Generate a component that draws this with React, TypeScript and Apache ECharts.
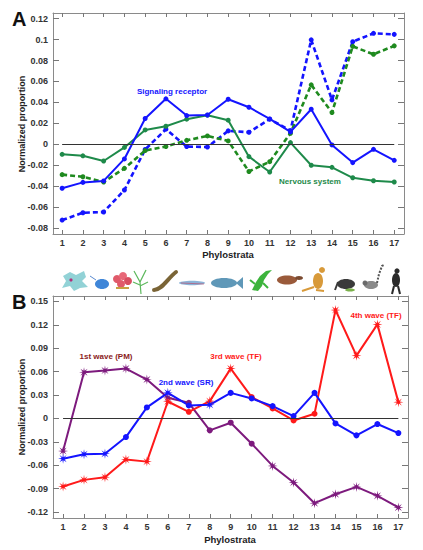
import React, { useEffect, useRef } from "react";
import * as echarts from "echarts";

const phylostrata = [1, 2, 3, 4, 5, 6, 7, 8, 9, 10, 11, 12, 13, 14, 15, 16, 17];

// Panel A
const srSolid = [-0.042, -0.0364, -0.035, -0.014, 0.0246, 0.0434, 0.0274, 0.028, 0.043, 0.0354, 0.0242, 0.0118, 0.0335, -0.0006, -0.0175, -0.0048, -0.0153];
const srDashed = [-0.0724, -0.0654, -0.0647, -0.0437, -0.005, 0.0144, -0.0022, -0.0026, 0.0128, 0.0115, 0.024, 0.013, 0.0998, 0.0424, 0.098, 0.106, 0.105];
const nsSolid = [-0.0096, -0.011, -0.016, -0.003, 0.0137, 0.0172, 0.024, 0.0278, 0.023, -0.0118, -0.0265, 0.0016, -0.02, -0.022, -0.032, -0.0348, -0.036];
const nsDashed = [-0.029, -0.031, -0.036, -0.023, -0.006, -0.0022, 0.0038, 0.008, 0.0032, -0.026, -0.0166, 0.0105, 0.0568, 0.0303, 0.0935, 0.086, 0.094];
const yTicksA = [-0.08, -0.06, -0.04, -0.02, 0, 0.02, 0.04, 0.06, 0.08, 0.1, 0.12];

// Panel B
const wave1 = [-0.0418, 0.0592, 0.0614, 0.0639, 0.0499, 0.0264, 0.02, -0.0153, -0.0055, -0.0324, -0.0609, -0.0822, -0.1087, -0.0972, -0.0878, -0.0993, -0.1142];
const wave2 = [-0.0516, -0.046, -0.0452, -0.0239, 0.0141, 0.0328, 0.0166, 0.0175, 0.0328, 0.0256, 0.0158, 0.003, 0.0328, -0.0064, -0.0217, -0.0072, -0.0188];
const wave34 = [-0.0874, -0.0788, -0.0754, -0.0528, -0.0554, 0.0217, 0.0085, 0.0222, 0.0639, 0.0273, 0.0128, -0.0026, 0.006, 0.139, 0.0805, 0.1206, 0.0209];
const wave1Marks = ["s", "s", "s", "s", "s", "s", "c", "c", "c", "c", "s", "s", "s", "s", "s", "s", "s"];
const wave2Marks = ["s", "s", "s", "c", "c", "s", "c", "s", "c", "c", "c", "c", "c", "c", "c", "c", "c"];
const wave34Marks = ["s", "s", "s", "s", "s", "s", "c", "s", "s", "c", "c", "c", "c", "s", "s", "s", "s"];
const yTicksB = [-0.12, -0.09, -0.06, -0.03, 0, 0.03, 0.06, 0.09, 0.12, 0.15];

const FONT = "Liberation Sans, Arial, sans-serif";

function starPath(): string {
  const pts: string[] = [];
  const n = 16;
  for (let i = 0; i < n; i++) {
    const a = (Math.PI * 2 * i) / n - Math.PI / 2;
    const r = i % 2 === 0 ? 10 : 3.2;
    const x = (10 + r * Math.cos(a)).toFixed(2);
    const y = (10 + r * Math.sin(a)).toFixed(2);
    pts.push((i === 0 ? "M" : "L") + x + " " + y);
  }
  return "path://" + pts.join(" ") + " Z";
}
const STAR = starPath();

function pairs(vals: number[]) {
  return phylostrata.map((x, i) => [x, vals[i]]);
}
function markedPairs(vals: number[], marks: string[]) {
  return phylostrata.map((x, i) => ({
    value: [x, vals[i]],
    symbol: marks[i] === "s" ? STAR : "circle",
    symbolSize: marks[i] === "s" ? 10 : 6,
  }));
}

const axisGray = "#8a8a8a";
const tickGray = "#777";
const labelStyle = { fontFamily: FONT, fontWeight: "bold" as const, fontSize: 9, color: "#333" };

function xAxes(grid: number, min: number, max: number) {
  return [
    {
      type: "value", gridIndex: grid, min, max, position: "bottom",
      axisLine: { show: true, onZero: false, lineStyle: { color: axisGray } },
      axisTick: { show: true, inside: true, length: 4, lineStyle: { color: tickGray }, customValues: phylostrata },
      axisLabel: { ...labelStyle, margin: 4, customValues: phylostrata },
      splitLine: { show: false },
    },
    {
      type: "value", gridIndex: grid, min, max, position: "top",
      axisLine: { show: true, onZero: false, lineStyle: { color: axisGray } },
      axisTick: { show: true, inside: true, length: 4, lineStyle: { color: tickGray }, customValues: phylostrata },
      axisLabel: { show: false },
      splitLine: { show: false },
    },
  ];
}
function yAxes(grid: number, min: number, max: number, ticks: number[]) {
  return [
    {
      type: "value", gridIndex: grid, min, max, position: "left",
      axisLine: { show: true, onZero: false, lineStyle: { color: axisGray } },
      axisTick: { show: true, inside: true, length: 6, lineStyle: { color: tickGray }, customValues: ticks },
      axisLabel: { ...labelStyle, margin: 5, customValues: ticks, formatter: (v: number) => String(Math.round(v * 1000) / 1000) },
      splitLine: { show: false },
    },
    {
      type: "value", gridIndex: grid, min, max, position: "right",
      axisLine: { show: true, onZero: false, lineStyle: { color: axisGray } },
      axisTick: { show: true, inside: true, length: 6, lineStyle: { color: tickGray }, customValues: ticks },
      axisLabel: { show: false },
      splitLine: { show: false },
    },
  ];
}

function zeroLine() {
  return {
    silent: true,
    symbol: "none",
    label: { show: false },
    lineStyle: { color: "#333", width: 1, type: "solid" },
    data: [[{ coord: [1, 0] }, { coord: [17, 0] }]],
  };
}

function icons(): any[] {
  const g: any[] = [];
  // amoeba
  g.push({ type: "polygon", shape: { points: [[63, 276], [70, 272], [76, 275], [84, 271], [86, 277], [82, 281], [88, 287], [80, 288], [74, 291], [70, 286], [62, 288], [66, 281]] }, style: { fill: "#92d2d6" } });
  g.push({ type: "circle", shape: { cx: 71, cy: 280, r: 1.6 }, style: { fill: "#b0307a" } });
  // cell
  g.push({ type: "line", shape: { x1: 90, y1: 276, x2: 96, y2: 280 }, style: { stroke: "#5a8ad0", lineWidth: 1 } });
  g.push({ type: "ellipse", shape: { cx: 102, cy: 284, rx: 7, ry: 5 }, style: { fill: "#3f86d8" } });
  // coral
  g.push({ type: "circle", shape: { cx: 117, cy: 279, r: 4 }, style: { fill: "#e05a6a" } });
  g.push({ type: "circle", shape: { cx: 123, cy: 276, r: 4 }, style: { fill: "#e86878" } });
  g.push({ type: "circle", shape: { cx: 128, cy: 281, r: 4 }, style: { fill: "#d84e60" } });
  g.push({ type: "circle", shape: { cx: 121, cy: 284, r: 4 }, style: { fill: "#e05a6a" } });
  g.push({ type: "rect", shape: { x: 116, y: 287, width: 13, height: 2 }, style: { fill: "#c8a040" } });
  // plant
  g.push({ type: "polyline", shape: { points: [[141, 294], [140, 282], [134, 271]] }, style: { stroke: "#5cb85c", lineWidth: 1.2, fill: "none" } });
  g.push({ type: "polyline", shape: { points: [[140, 282], [146, 270]] }, style: { stroke: "#5cb85c", lineWidth: 1.2, fill: "none" } });
  g.push({ type: "polyline", shape: { points: [[140, 286], [148, 282]] }, style: { stroke: "#5cb85c", lineWidth: 1.2, fill: "none" } });
  g.push({ type: "polyline", shape: { points: [[140, 285], [133, 282]] }, style: { stroke: "#5cb85c", lineWidth: 1.2, fill: "none" } });
  // worm
  g.push({ type: "bezierCurve", shape: { x1: 154, y1: 290, cpx1: 162, cpy1: 290, cpx2: 168, cpy2: 278, x2: 176, y2: 272 }, style: { stroke: "#7a6436", lineWidth: 4, fill: "none", lineCap: "round" } });
  // thin fish
  g.push({ type: "ellipse", shape: { cx: 192, cy: 283, rx: 13, ry: 2.2 }, style: { fill: "#8cb4d8" } });
  g.push({ type: "line", shape: { x1: 181, y1: 283, x2: 204, y2: 284 }, style: { stroke: "#c04060", lineWidth: 0.6 } });
  // coelacanth
  g.push({ type: "ellipse", shape: { cx: 224, cy: 283, rx: 13, ry: 5 }, style: { fill: "#5f98b8" } });
  g.push({ type: "polygon", shape: { points: [[236, 283], [243, 277], [243, 289]] }, style: { fill: "#5f98b8" } });
  // lizard
  g.push({ type: "polygon", shape: { points: [[252, 290], [256, 282], [260, 276], [266, 271], [272, 270], [268, 274], [264, 280], [262, 286], [258, 291]] }, style: { fill: "#3cb43c" } });
  g.push({ type: "line", shape: { x1: 255, y1: 284, x2: 250, y2: 280 }, style: { stroke: "#3cb43c", lineWidth: 2 } });
  g.push({ type: "line", shape: { x1: 263, y1: 283, x2: 268, y2: 288 }, style: { stroke: "#3cb43c", lineWidth: 2 } });
  // platypus
  g.push({ type: "ellipse", shape: { cx: 287, cy: 280, rx: 10, ry: 4.5 }, style: { fill: "#9a5a3a" } });
  g.push({ type: "ellipse", shape: { cx: 299, cy: 278, rx: 4, ry: 2 }, style: { fill: "#7a4a30" } });
  // kangaroo
  g.push({ type: "ellipse", shape: { cx: 318, cy: 281, rx: 5, ry: 8 }, style: { fill: "#d89a3a" } });
  g.push({ type: "circle", shape: { cx: 322, cy: 270, r: 3 }, style: { fill: "#d89a3a" } });
  g.push({ type: "line", shape: { x1: 314, y1: 287, x2: 302, y2: 291 }, style: { stroke: "#d89a3a", lineWidth: 2 } });
  g.push({ type: "line", shape: { x1: 316, y1: 290, x2: 324, y2: 291 }, style: { stroke: "#d89a3a", lineWidth: 2 } });
  // anteater
  g.push({ type: "ellipse", shape: { cx: 346, cy: 284, rx: 9, ry: 5 }, style: { fill: "#3a3a3a" } });
  g.push({ type: "line", shape: { x1: 338, y1: 282, x2: 335, y2: 290 }, style: { stroke: "#3a3a3a", lineWidth: 2 } });
  g.push({ type: "ellipse", shape: { cx: 350, cy: 290, rx: 5, ry: 1.5 }, style: { fill: "#7ab04a" } });
  // lemur
  g.push({ type: "ellipse", shape: { cx: 371, cy: 285, rx: 7, ry: 4 }, style: { fill: "#8a8a8a" } });
  g.push({ type: "circle", shape: { cx: 365, cy: 283, r: 2.5 }, style: { fill: "#6a6a6a" } });
  g.push({ type: "polyline", shape: { points: [[377, 283], [379, 274], [382, 266], [384, 265]] }, style: { stroke: "#555", lineWidth: 2, fill: "none", lineDash: [2, 1.5] } });
  // gorilla
  g.push({ type: "ellipse", shape: { cx: 396, cy: 280, rx: 4, ry: 7 }, style: { fill: "#2a2a2a" } });
  g.push({ type: "circle", shape: { cx: 397, cy: 271, r: 2.6 }, style: { fill: "#2a2a2a" } });
  g.push({ type: "line", shape: { x1: 394, y1: 286, x2: 392, y2: 294 }, style: { stroke: "#2a2a2a", lineWidth: 2 } });
  g.push({ type: "line", shape: { x1: 398, y1: 286, x2: 400, y2: 294 }, style: { stroke: "#2a2a2a", lineWidth: 2 } });
  return g;
}

export default function App() {
  const ref = useRef<HTMLDivElement>(null);
  useEffect(() => {
    if (!ref.current) return;
    const chart = echarts.init(ref.current, null, { renderer: "svg" });
    const blue = "#1414ff";
    const greenSolid = "#1e8a4a";
    const greenDash = "#1f8a1f";
    const purple = "#7d1a7d";
    const red = "#ff1a1a";
    const textBase = { fontFamily: FONT, fontWeight: "bold" };
    chart.setOption({
      animation: false,
      backgroundColor: "#ffffff",
      grid: [
        { left: 53, top: 13, width: 351, height: 221, containLabel: false },
        { left: 53, top: 296, width: 355, height: 222, containLabel: false },
      ],
      xAxis: [...xAxes(0, 0.56, 17.47), ...xAxes(1, 0.52, 17.46)],
      yAxis: [...yAxes(0, -0.0857, 0.1254, yTicksA), ...yAxes(1, -0.1277, 0.157, yTicksB)],
      series: [
        {
          type: "line", xAxisIndex: 0, yAxisIndex: 0, data: pairs(srDashed),
          symbol: "circle", symbolSize: 5, itemStyle: { color: blue },
          lineStyle: { color: blue, width: 2.6, type: [5, 3] },
        },
        {
          type: "line", xAxisIndex: 0, yAxisIndex: 0, data: pairs(nsDashed),
          symbol: "circle", symbolSize: 5, itemStyle: { color: greenDash },
          lineStyle: { color: greenDash, width: 2.6, type: [5, 3] },
        },
        {
          type: "line", xAxisIndex: 0, yAxisIndex: 0, data: pairs(nsSolid),
          symbol: "circle", symbolSize: 5, itemStyle: { color: greenSolid },
          lineStyle: { color: greenSolid, width: 2 },
        },
        {
          type: "line", xAxisIndex: 0, yAxisIndex: 0, data: pairs(srSolid),
          symbol: "circle", symbolSize: 5, itemStyle: { color: blue },
          lineStyle: { color: blue, width: 2 },
          markLine: zeroLine(),
        },
        {
          type: "line", xAxisIndex: 2, yAxisIndex: 2, data: markedPairs(wave1, wave1Marks),
          itemStyle: { color: purple }, lineStyle: { color: purple, width: 2 },
          markLine: zeroLine(),
        },
        {
          type: "line", xAxisIndex: 2, yAxisIndex: 2, data: markedPairs(wave34, wave34Marks),
          itemStyle: { color: red }, lineStyle: { color: red, width: 2 },
        },
        {
          type: "line", xAxisIndex: 2, yAxisIndex: 2, data: markedPairs(wave2, wave2Marks),
          itemStyle: { color: blue }, lineStyle: { color: blue, width: 2 },
        },
      ],
      graphic: [
        { type: "text", left: 12, top: 9, style: { ...textBase, text: "A", fontSize: 20, fill: "#111" } },
        { type: "text", left: 12, top: 292, style: { ...textBase, text: "B", fontSize: 20, fill: "#111" } },
        { type: "text", x: 22, y: 124, rotation: Math.PI / 2, style: { ...textBase, text: "Normalized proportion", fontSize: 9, fill: "#222", align: "center", verticalAlign: "middle" } },
        { type: "text", x: 22, y: 407, rotation: Math.PI / 2, style: { ...textBase, text: "Normalized proportion", fontSize: 9, fill: "#222", align: "center", verticalAlign: "middle" } },
        { type: "text", x: 228, y: 254, style: { ...textBase, text: "Phylostrata", fontSize: 9.5, fill: "#222", align: "center", verticalAlign: "middle" } },
        { type: "text", x: 230, y: 539, style: { ...textBase, text: "Phylostrata", fontSize: 9.5, fill: "#222", align: "center", verticalAlign: "middle" } },
        { type: "text", x: 172, y: 91, style: { ...textBase, text: "Signaling receptor", fontSize: 8, fill: blue, align: "center", verticalAlign: "middle" } },
        { type: "text", x: 310, y: 181, style: { ...textBase, text: "Nervous system", fontSize: 8, fill: greenSolid, align: "center", verticalAlign: "middle" } },
        { type: "text", x: 106, y: 356, style: { ...textBase, text: "1st wave (PM)", fontSize: 8, fill: "#8b1c1c", align: "center", verticalAlign: "middle" } },
        { type: "text", x: 186, y: 382, style: { ...textBase, text: "2nd wave (SR)", fontSize: 8, fill: blue, align: "center", verticalAlign: "middle" } },
        { type: "text", x: 236, y: 356, style: { ...textBase, text: "3rd wave (TF)", fontSize: 8, fill: red, align: "center", verticalAlign: "middle" } },
        { type: "text", x: 376, y: 315, style: { ...textBase, text: "4th wave (TF)", fontSize: 8, fill: red, align: "center", verticalAlign: "middle" } },
        ...icons(),
      ],
    });
    return () => chart.dispose();
  }, []);
  return (
    <div
      ref={ref}
      style={{ position: "absolute", left: 0, top: 0, width: 423, height: 550, background: "#fff" }}
    />
  );
}
